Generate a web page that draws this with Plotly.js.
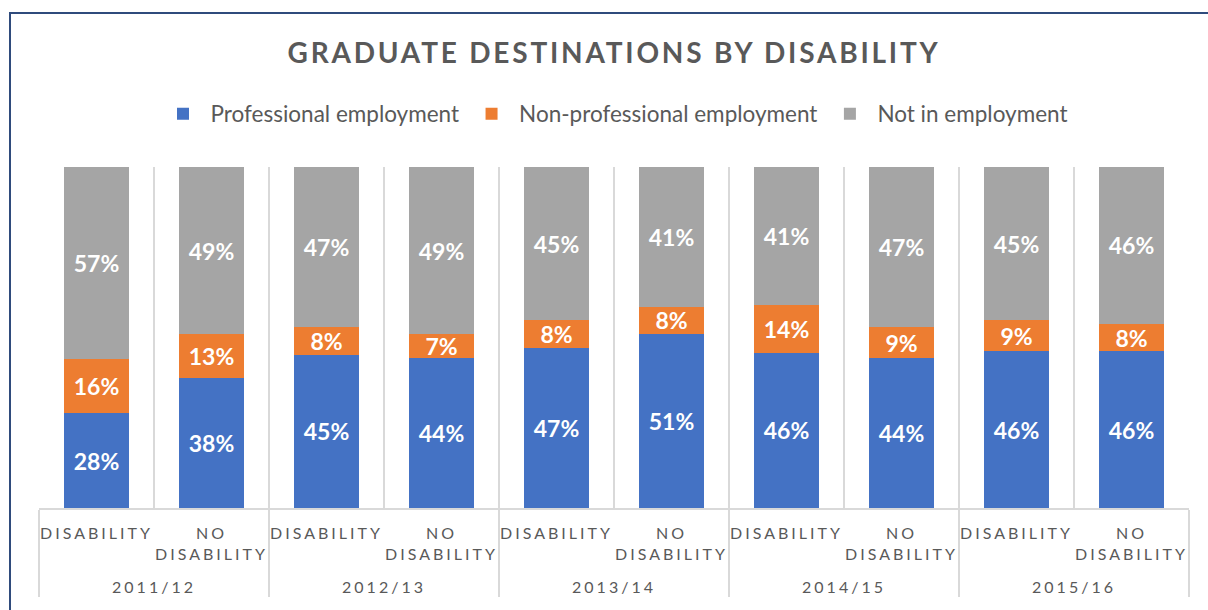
<!DOCTYPE html>
<html>
<head>
<meta charset="utf-8">
<script src="https://cdn.plot.ly/plotly-3.0.1.min.js"></script>
<style>
  html, body { margin: 0; padding: 0; background: #ffffff; overflow: hidden; }
  #chart { position: absolute; left: 0; top: 0; width: 1208px; height: 610px; }
  #frame { position: absolute; left: 9px; top: 12px; width: 1300px; height: 700px;
           border-left: 2px solid #2F4B7C; border-top: 2px solid #2F4B7C;
           pointer-events: none; box-sizing: border-box; }
  .xaxislayer-above text { letter-spacing: 3px; }
  .gtitle { letter-spacing: 2.8px; }
</style>
</head>
<body>
<div id="chart"></div>
<div id="frame"></div>
<script>
// ---- data ----
const years = ['2011/12', '2012/13', '2013/14', '2014/15', '2015/16'];
const groups = ['DISABILITY', 'NO<br>DISABILITY<br><span style="font-size:24px">\u00A0</span>'];
const seriesNames = ['Professional employment', 'Non-professional employment', 'Not in employment'];
const professional    = [28, 38, 45, 44, 47, 51, 46, 44, 46, 46];
const nonProfessional = [16, 13,  8,  7,  8,  8, 14,  9,  9,  8];
const notEmployed     = [57, 49, 47, 49, 45, 41, 41, 47, 45, 46];
const colors = ['#4472C4', '#ED7D31', '#A5A5A5'];

// ---- build multicategory x ----
const xYear = [], xGroup = [];
years.forEach(y => groups.forEach(g => { xYear.push(y); xGroup.push(g); }));

const seriesValues = [professional, nonProfessional, notEmployed];
const traces = seriesValues.map((vals, i) => ({
  type: 'bar',
  name: seriesNames[i],
  x: [xYear, xGroup],
  y: vals,
  text: vals.map(v => v + '%'),
  textposition: 'inside',
  insidetextanchor: 'middle',
  textangle: 0,
  constraintext: 'none',
  textfont: { family: 'Lato, sans-serif', size: 23, color: '#FFFFFF', weight: 'bold' },
  marker: { color: colors[i], line: { width: 0 } },
  hoverinfo: 'none'
}));

const layout = {
  width: 1208,
  height: 610,
  barmode: 'stack',
  barnorm: 'percent',
  bargap: 0.44,
  paper_bgcolor: '#FFFFFF',
  plot_bgcolor: '#FFFFFF',
  margin: { l: 39, r: 19, t: 167, b: 102 },
  font: { family: 'Lato, sans-serif', color: '#595959' },
  title: {
    text: 'GRADUATE DESTINATIONS BY DISABILITY',
    font: { family: 'Lato, sans-serif', size: 28, color: '#595959', weight: 'bold' },
    x: 0.5, xref: 'paper', xanchor: 'center',
    y: 1 - 53 / 610, yref: 'container', yanchor: 'middle'
  },
  showlegend: true,
  legend: {
    orientation: 'h',
    x: 0.5, xref: 'paper', xanchor: 'center',
    y: 1 - 114 / 610, yref: 'container', yanchor: 'middle',
    font: { family: 'Lato, sans-serif', size: 22.5, color: '#595959' },
    itemwidth: 45,
    traceorder: 'normal'
  },
  xaxis: {
    type: 'multicategory',
    tickson: 'boundaries',
    showgrid: true,
    gridcolor: '#D9D9D9',
    gridwidth: 1.5,
    showline: true,
    linecolor: '#D9D9D9',
    linewidth: 1.5,
    ticks: '',
    ticklabelstandoff: 10,
    showdividers: true,
    dividercolor: '#D9D9D9',
    dividerwidth: 1.5,
    tickfont: { family: 'Lato, sans-serif', size: 16, color: '#595959' },
    zeroline: false
  },
  yaxis: {
    range: [0, 100],
    showgrid: false,
    showticklabels: false,
    zeroline: false,
    showline: false,
    ticks: ''
  }
};

Plotly.newPlot('chart', traces, layout, { displayModeBar: false, staticPlot: true });
</script>
</body>
</html>
